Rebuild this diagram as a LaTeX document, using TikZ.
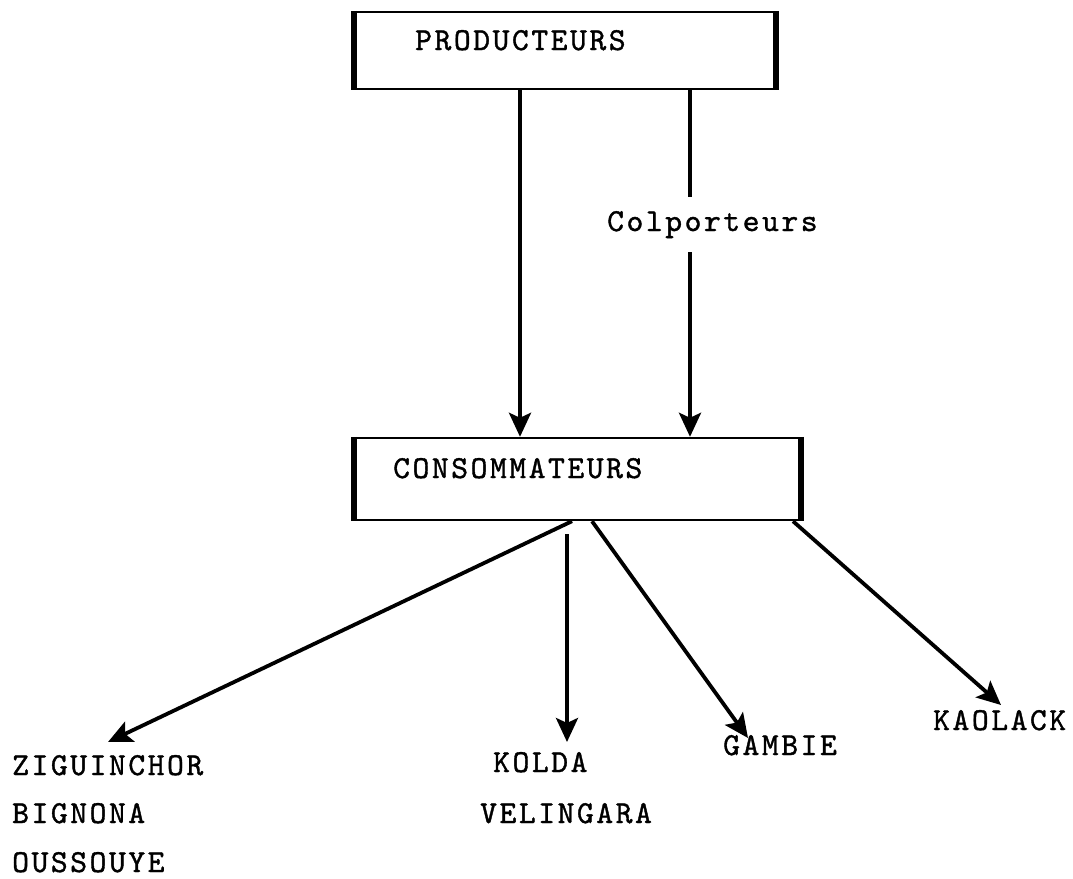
\documentclass[tikz,border=0pt]{standalone}
\usepackage{fontspec}
\usetikzlibrary{arrows.meta}
\newfontfamily\typewriter{lmmono10-regular.otf}[LetterSpace=8,FakeBold=1.2]
\begin{document}
\begin{tikzpicture}[x=1pt,y=-1pt,
  box/.style={draw, line width=2.4pt, inner sep=0pt},
  side/.style={line width=6pt},
  lbl/.style={inner sep=0pt, anchor=base west, font=\typewriter\fontsize{32}{38}\selectfont},
  arr/.style={line width=3.8pt, -{Stealth[length=24pt,width=22pt,inset=5pt]}},
  link/.style={line width=3.8pt}]
\useasboundingbox (0,0) rectangle (1073,878);

% the two boxes, with heavier vertical sides
\node[box, minimum width=420pt, minimum height=77pt] (prod) at (565,50.5) {};
\node[box, minimum width=445pt, minimum height=82pt] (cons) at (577.5,479) {};
\foreach \b in {prod,cons}{
  \draw[side] (\b.north west) -- (\b.south west);
  \draw[side] (\b.north east) -- (\b.south east);
}
\node[lbl] (prodtxt) at (415,50) {PRODUCTEURS};
\node[lbl] (constxt) at (393,478) {CONSOMMATEURS};

% middle label, with room kept around it for the broken line
\node[lbl, inner ysep=14pt] (colp) at (607,231) {Colporteurs};

% destination labels
\node[lbl] (zig) at (12,775) {ZIGUINCHOR};
\node[lbl] (big) at (12,823) {BIGNONA};
\node[lbl] (ous) at (12,872) {OUSSOUYE};
\node[lbl] (kol) at (493,772) {KOLDA};
\node[lbl] (vel) at (480,823) {VELINGARA};
\node[lbl] (gam) at (723,755) {GAMBIE};
\node[lbl] (kao) at (933,730) {KAOLACK};

% line positions and arrow tips
\coordinate (xL) at (520,0);
\coordinate (xR) at (690,0);
\coordinate (sZ) at (572,0);
\coordinate (sK) at (567,0);
\coordinate (sG) at (592,0);
\coordinate (sA) at (793,0);
\coordinate (tZ) at (108,742);
\coordinate (tK) at (567,742);
\coordinate (tG) at (748,738);
\coordinate (tA) at (1001,705);

% producers to consumers
\draw[arr] (prod.south -| xL) -- (cons.north -| xL);
\draw[link] (prod.south -| xR) -- (colp.north -| xR);
\draw[arr] (colp.south -| xR) -- (cons.north -| xR);

% consumers to the markets
\draw[arr] (cons.south -| sZ) -- (tZ);
\draw[arr, shorten <=13pt] (cons.south -| sK) -- (tK);
\draw[arr] (cons.south -| sG) -- (tG);
\draw[arr] (cons.south -| sA) -- (tA);
\end{tikzpicture}
\end{document}
